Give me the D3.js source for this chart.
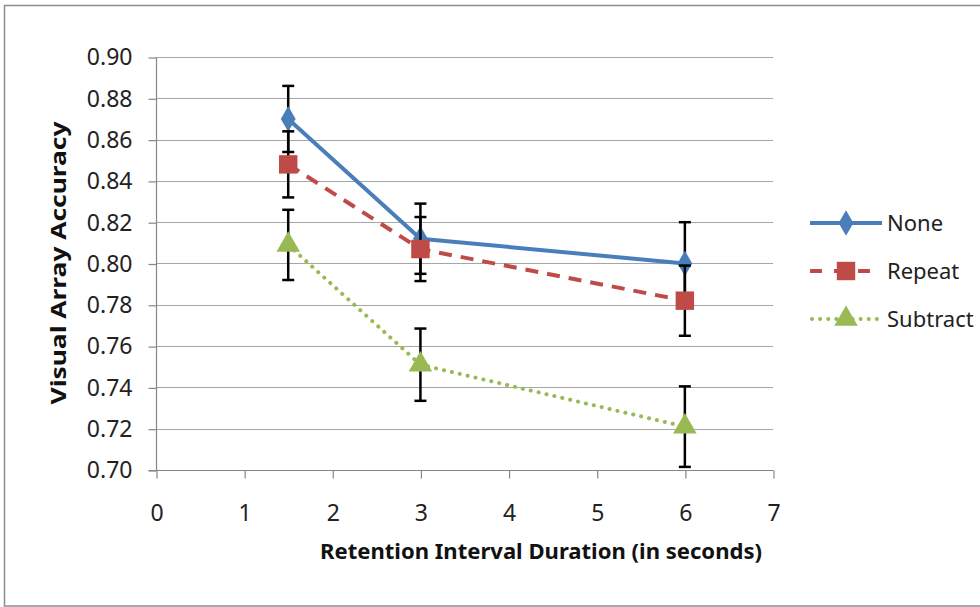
<!DOCTYPE html>
<html>
<head>
<meta charset="utf-8">
<script src="https://cdn.jsdelivr.net/npm/d3@7"></script>
<style>
  body { margin: 0; background: #fff; }
  svg { display: block; font-family: "Noto Sans", "Open Sans", sans-serif; }
</style>
</head>
<body>
<div id="chart"></div>
<script>
// retention interval (s)
const durations = [1.5, 3, 6];
const seriesNames = ['None', 'Repeat', 'Subtract'];
const noneAcc = [0.870, 0.812, 0.800];
const noneErr = [0.016, 0.017, 0.020];
const repeatAcc = [0.848, 0.807, 0.782];
const repeatErr = [0.016, 0.0155, 0.017];
const subtractAcc = [0.809, 0.751, 0.721];
const subtractErr = [0.017, 0.0175, 0.0195];
const xTicks = [0, 1, 2, 3, 4, 5, 6, 7];
const yTicks = [0.70, 0.72, 0.74, 0.76, 0.78, 0.80, 0.82, 0.84, 0.86, 0.88, 0.90];

const width = 980, height = 607;
const margin = { top: 57, right: 207, bottom: 137, left: 156 };

const svg = d3.select('#chart')
    .append('svg')
    .attr('width', width)
    .attr('height', height);

// chart frame
svg.append('rect')
    .attr('x', 4.5).attr('y', 5.5)
    .attr('width', 1000).attr('height', 600.5)
    .attr('fill', 'none')
    .attr('stroke', '#8c8c8c')
    .attr('stroke-width', 1.5);

const x = d3.scaleLinear()
    .domain([0, 7])
    .range([margin.left, width - margin.right]);

const y = d3.scaleLinear()
    .domain([0.70, 0.90])
    .range([height - margin.bottom, margin.top]);

// gridlines
svg.append('g')
    .selectAll('line')
    .data(yTicks.slice(1))
    .join('line')
    .attr('x1', x(0)).attr('x2', x(7))
    .attr('y1', d => Math.round(y(d)) + 0.5)
    .attr('y2', d => Math.round(y(d)) + 0.5)
    .attr('stroke', '#a6a6a6')
    .attr('stroke-width', 1);

// axes
const yAxis = svg.append('g')
    .attr('transform', `translate(${x(0) + 0.5},0.5)`)
    .call(d3.axisLeft(y).tickValues(yTicks).tickFormat(d3.format('.2f')).tickSize(8).tickPadding(16));

const xAxis = svg.append('g')
    .attr('transform', `translate(0.5,${y(0.70) + 0.5})`)
    .call(d3.axisBottom(x).tickValues(xTicks).tickFormat(d3.format('d')).tickSize(8).tickPadding(26));

[xAxis, yAxis].forEach(g => {
    g.select('.domain').attr('stroke', '#868686').attr('stroke-width', 1.2);
    g.selectAll('.tick line').attr('stroke', '#868686').attr('stroke-width', 1.2);
    g.selectAll('.tick text')
        .attr('fill', '#222')
        .style('font-size', '23px')
        .style('font-family', '"Noto Sans", sans-serif');
});
yAxis.select('.domain').attr('d', `M0,${y(0.70)}V${y(0.90)}`);
xAxis.select('.domain').attr('d', `M${x(0) - 8},0H${x(7)}`);

// axis titles
svg.append('text')
    .attr('x', 541).attr('y', 559)
    .attr('text-anchor', 'middle')
    .attr('textLength', 442)
    .attr('lengthAdjust', 'spacingAndGlyphs')
    .style('font-size', '21px')
    .style('font-weight', 'bold')
    .attr('fill', '#111')
    .text('Retention Interval Duration (in seconds)');

svg.append('text')
    .attr('transform', 'translate(66,263) rotate(-90)')
    .attr('text-anchor', 'middle')
    .attr('textLength', 283)
    .attr('lengthAdjust', 'spacingAndGlyphs')
    .style('font-size', '21px')
    .style('font-weight', 'bold')
    .attr('fill', '#111')
    .text('Visual Array Accuracy');

const styles = {
    None: { color: '#4a7ebb', dash: null, cap: 'butt', symbol: d3.symbolDiamond, size: 190 },
    Repeat: { color: '#be4b48', dash: '13,9', cap: 'butt', symbol: d3.symbolSquare, size: 340 },
    Subtract: { color: '#98b954', dash: '0.1,8', cap: 'round', symbol: d3.symbolTriangle, size: 240 }
};

const series = [
    { name: 'None', values: noneAcc, errs: noneErr },
    { name: 'Repeat', values: repeatAcc, errs: repeatErr },
    { name: 'Subtract', values: subtractAcc, errs: subtractErr }
];

const line = d3.line()
    .x(d => x(d[0]))
    .y(d => y(d[1]));

series.forEach(s => {
    const st = styles[s.name];
    const pts = durations.map((d, i) => [d, s.values[i], s.errs[i]]);
    const g = svg.append('g');

    g.append('path')
        .datum(pts)
        .attr('d', line)
        .attr('fill', 'none')
        .attr('stroke', st.color)
        .attr('stroke-width', 4)
        .attr('stroke-linecap', st.cap)
        .attr('stroke-linejoin', 'round')
        .attr('stroke-dasharray', st.dash);

    // error bars
    const eb = g.append('g')
        .selectAll('g')
        .data(pts)
        .join('g')
        .attr('stroke', '#000')
        .attr('stroke-width', 2.5);
    eb.append('line')
        .attr('x1', d => x(d[0])).attr('x2', d => x(d[0]))
        .attr('y1', d => y(d[1] - d[2])).attr('y2', d => y(d[1] + d[2]));
    eb.append('line')
        .attr('x1', d => x(d[0]) - 6).attr('x2', d => x(d[0]) + 6)
        .attr('y1', d => y(d[1] + d[2])).attr('y2', d => y(d[1] + d[2]));
    eb.append('line')
        .attr('x1', d => x(d[0]) - 6).attr('x2', d => x(d[0]) + 6)
        .attr('y1', d => y(d[1] - d[2])).attr('y2', d => y(d[1] - d[2]));

    g.append('g')
        .selectAll('path')
        .data(pts)
        .join('path')
        .attr('transform', d => `translate(${x(d[0])},${y(d[1])})`)
        .attr('d', d3.symbol().type(st.symbol).size(st.size))
        .attr('fill', st.color);
});

// legend
const legend = svg.append('g');
const legendY = [223, 271, 319];
seriesNames.forEach((name, i) => {
    const st = styles[name];
    const lg = legend.append('g').attr('transform', `translate(0,${legendY[i]})`);
    lg.append('line')
        .attr('x1', name === 'Subtract' ? 812 : 810).attr('x2', 882)
        .attr('stroke', st.color)
        .attr('stroke-width', 4)
        .attr('stroke-linecap', st.cap)
        .attr('stroke-dasharray', name === 'Repeat' ? '12,12' : st.dash);
    lg.append('path')
        .attr('transform', 'translate(846,0)')
        .attr('d', d3.symbol().type(st.symbol).size(st.size))
        .attr('fill', st.color);
    lg.append('text')
        .attr('x', 887).attr('y', 0)
        .attr('dy', '0.35em')
        .style('font-size', '22px')
        .attr('fill', '#222')
        .text(name);
});
</script>
</body>
</html>
